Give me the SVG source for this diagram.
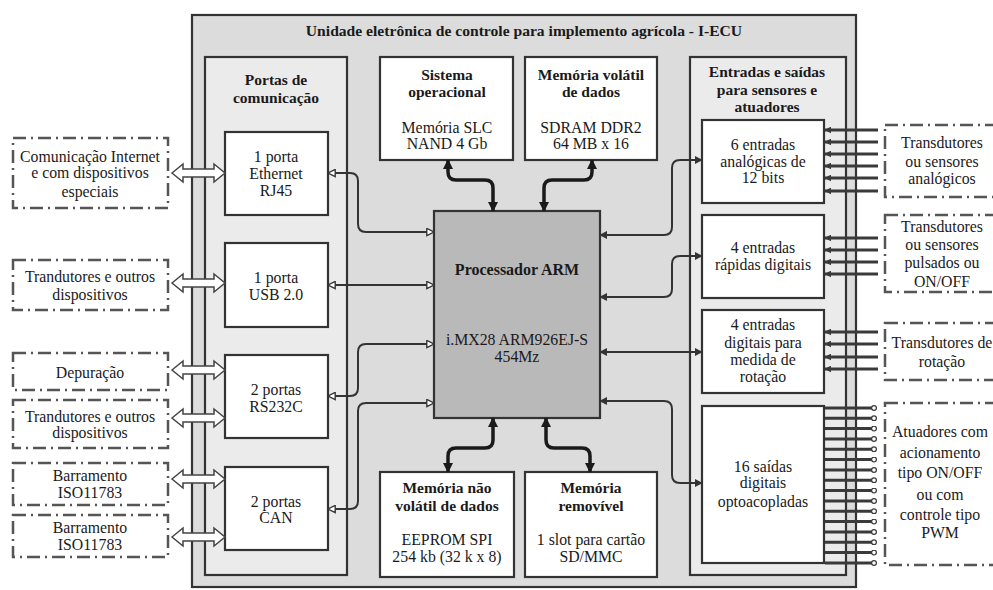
<svg xmlns="http://www.w3.org/2000/svg" width="993" height="590" viewBox="0 0 993 590">
<style>
text{font-family:"Liberation Serif","Times New Roman",serif;font-size:15.8px;fill:#1a1a1a;text-anchor:middle}
.b{font-weight:bold;font-size:15.5px}
.t{font-size:15.6px;font-weight:bold}
.ext{fill:#fff;stroke:#555;stroke-width:2.5;stroke-dasharray:13 5 2 5}
.box{fill:#fff;stroke:#333;stroke-width:2.2}
.col{fill:#ebebeb;stroke:#333;stroke-width:2.2}
.thick{fill:none;stroke:#1a1a1a;stroke-width:3.5;marker-start:url(#ah);marker-end:url(#ah)}
.thinL{fill:none;stroke:#333;stroke-width:2;marker-start:url(#hh);marker-end:url(#hh)}
.thinR{fill:none;stroke:#333;stroke-width:2;marker-start:url(#sh);marker-end:url(#sh)}
.sigIn{stroke:#3a3a3a;stroke-width:3;marker-start:url(#sm)}
.sigOut{stroke:#3a3a3a;stroke-width:3;marker-end:url(#so)}
.hollow{fill:#fff;stroke:#444;stroke-width:1.5}
</style>
<defs>
<marker id="ah" viewBox="0 0 10 10" refX="9" refY="5" markerWidth="10" markerHeight="10" markerUnits="userSpaceOnUse" orient="auto-start-reverse"><path d="M0,0 L10,5 L0,10 z" fill="#1a1a1a"/></marker>
<marker id="hh" viewBox="0 0 10 10" refX="9" refY="5" markerWidth="9" markerHeight="9" markerUnits="userSpaceOnUse" orient="auto-start-reverse"><path d="M1,1 L9,5 L1,9 z" fill="#fff" stroke="#333" stroke-width="1.5"/></marker>
<marker id="sh" viewBox="0 0 10 10" refX="9" refY="5" markerWidth="8" markerHeight="8" markerUnits="userSpaceOnUse" orient="auto-start-reverse"><path d="M0,0 L10,5 L0,10 z" fill="#333"/></marker>
<marker id="sm" viewBox="0 0 10 10" refX="9" refY="5" markerWidth="7" markerHeight="7" markerUnits="userSpaceOnUse" orient="auto-start-reverse"><path d="M0,0 L10,5 L0,10 z" fill="#3a3a3a"/></marker>
<marker id="so" viewBox="0 0 10 10" refX="5" refY="5" markerWidth="6" markerHeight="6" markerUnits="userSpaceOnUse"><circle cx="5" cy="5" r="4" fill="#fff" stroke="#3a3a3a" stroke-width="2"/></marker>
<path id="ha" d="M172,0 L183,-9 L183,-4 L214,-4 L214,-9 L225,0 L214,9 L214,4 L183,4 L183,9 z"/>
</defs>
<rect width="993" height="590" fill="#fff"/>

<g id="iecu">
<rect x="192" y="15" width="664" height="572" fill="#dcdcdc" stroke="#333" stroke-width="2.2"/>
<text class="t" x="524" y="36">Unidade eletrônica de controle para implemento agrícola - I-ECU</text>
</g>

<g id="portas">
<rect class="col" x="205" y="57" width="142" height="518"/>
<text class="b" x="276" y="85">Portas de</text>
<text class="b" x="276" y="103">comunicação</text>
</g>
<g id="eth"><rect class="box" x="225" y="132" width="103" height="83"/>
<text x="276" y="162">1 porta</text><text x="276" y="179">Ethernet</text><text x="276" y="196">RJ45</text></g>
<g id="usb"><rect class="box" x="225" y="243" width="103" height="84"/>
<text x="276" y="283">1 porta</text><text x="276" y="300">USB 2.0</text></g>
<g id="rs232"><rect class="box" x="225" y="355" width="103" height="83"/>
<text x="276" y="395">2 portas</text><text x="276" y="412">RS232C</text></g>
<g id="can"><rect class="box" x="225" y="467" width="103" height="83"/>
<text x="276" y="507">2 portas</text><text x="276" y="523">CAN</text></g>

<g id="so"><rect class="box" x="380" y="57" width="133" height="103"/>
<text class="b" x="447" y="80">Sistema</text><text class="b" x="447" y="97">operacional</text>
<text x="447" y="133">Memória SLC</text><text x="447" y="149">NAND 4 Gb</text></g>
<g id="mvol"><rect class="box" x="525" y="57" width="132" height="103"/>
<text class="b" x="591" y="80">Memória volátil</text><text class="b" x="591" y="97">de dados</text>
<text x="591" y="133">SDRAM DDR2</text><text x="591" y="149">64 MB x 16</text></g>

<g id="proc"><rect x="434" y="211" width="166" height="207" fill="#b9b9b9" stroke="#333" stroke-width="2.2"/>
<text class="b" x="517" y="275" style="font-size:16px">Processador ARM</text>
<text x="517" y="345">i.MX28 ARM926EJ-S</text><text x="517" y="362">454Mz</text></g>

<g id="mnvol"><rect class="box" x="380" y="472" width="134" height="105"/>
<text class="b" x="447" y="493">Memória não</text><text class="b" x="447" y="511">volátil de dados</text>
<text x="447" y="545">EEPROM SPI</text><text x="447" y="562">254 kb (32 k x 8)</text></g>
<g id="mrem"><rect class="box" x="525" y="472" width="132" height="105"/>
<text class="b" x="591" y="493">Memória</text><text class="b" x="591" y="511">removível</text>
<text x="591" y="545">1 slot para cartão</text><text x="591" y="562">SD/MMC</text></g>

<g id="es">
<rect class="col" x="690" y="57" width="156" height="518"/>
<text class="b" x="767" y="77">Entradas e saídas</text>
<text class="b" x="767" y="95">para sensores e</text>
<text class="b" x="767" y="112">atuadores</text>
</g>
<g id="ana"><rect class="box" x="702" y="120" width="122" height="83"/>
<text x="763" y="150">6 entradas</text><text x="763" y="167">analógicas de</text><text x="763" y="183">12 bits</text></g>
<g id="rap"><rect class="box" x="702" y="215" width="122" height="83"/>
<text x="763" y="253">4 entradas</text><text x="763" y="270">rápidas digitais</text></g>
<g id="rot"><rect class="box" x="702" y="310" width="122" height="83"/>
<text x="763" y="330">4 entradas</text><text x="763" y="348">digitais para</text><text x="763" y="365">medida de</text><text x="763" y="382">rotação</text></g>
<g id="sai"><rect class="box" x="702" y="406" width="122" height="157"/>
<text x="763" y="472">16 saídas</text><text x="763" y="488">digitais</text><text x="763" y="507">optoacopladas</text></g>

<g id="ext-left">
<g id="e1"><rect class="ext" x="13" y="138" width="155" height="70"/>
<text x="90" y="162">Comunicação Internet</text><text x="90" y="178">e com dispositivos</text><text x="90" y="197">especiais</text></g>
<g id="e2"><rect class="ext" x="13" y="260" width="155" height="50"/>
<text x="90" y="282">Trandutores e outros</text><text x="90" y="300">dispositivos</text></g>
<g id="e3"><rect class="ext" x="13" y="353" width="155" height="37"/>
<text x="90" y="378">Depuração</text></g>
<g id="e4"><rect class="ext" x="13" y="400" width="155" height="48"/>
<text x="90" y="422">Trandutores e outros</text><text x="90" y="438">dispositivos</text></g>
<g id="e5"><rect class="ext" x="13" y="463" width="155" height="42"/>
<text x="90" y="481">Barramento</text><text x="90" y="498">ISO11783</text></g>
<g id="e6"><rect class="ext" x="13" y="515" width="155" height="42"/>
<text x="90" y="533">Barramento</text><text x="90" y="550">ISO11783</text></g>
</g>

<g id="ext-right">
<g id="r1"><rect class="ext" x="885" y="125" width="115" height="72"/>
<text x="942" y="148">Transdutores</text><text x="942" y="167">ou sensores</text><text x="942" y="184">analógicos</text></g>
<g id="r2"><rect class="ext" x="885" y="215" width="115" height="77"/>
<text x="942" y="232">Transdutores</text><text x="942" y="250">ou sensores</text><text x="942" y="268">pulsados ou</text><text x="942" y="287">ON/OFF</text></g>
<g id="r3"><rect class="ext" x="885" y="323" width="115" height="57"/>
<text x="942" y="348">Transdutores de</text><text x="942" y="367">rotação</text></g>
<g id="r4"><rect class="ext" x="885" y="403" width="115" height="162"/>
<text x="940" y="437">Atuadores com</text><text x="940" y="458">acionamento</text><text x="940" y="478">tipo ON/OFF</text><text x="940" y="500">ou com</text><text x="940" y="520">controle tipo</text><text x="940" y="538">PWM</text></g>
</g>

<g id="connectors">
<use href="#ha" class="hollow" transform="translate(0,173)"/>
<use href="#ha" class="hollow" transform="translate(0,283)"/>
<use href="#ha" class="hollow" transform="translate(0,370)"/>
<use href="#ha" class="hollow" transform="translate(0,418)"/>
<use href="#ha" class="hollow" transform="translate(0,479)"/>
<use href="#ha" class="hollow" transform="translate(0,537)"/>

<path class="thick" d="M448,160 V172 Q448,180 456,180 H485 Q493,180 493,188 V211"/>
<path class="thick" d="M592,160 V172 Q592,180 584,180 H552 Q544,180 544,188 V211"/>
<path class="thick" d="M493,418 V440 Q493,448 485,448 H456 Q448,448 448,456 V472"/>
<path class="thick" d="M546,418 V440 Q546,448 554,448 H582 Q590,448 590,456 V472"/>

<path class="thinL" d="M328,173 H350 Q358,173 358,181 V224 Q358,232 366,232 H434"/>
<path class="thinL" d="M328,285 H434"/>
<path class="thinL" d="M328,396 H350 Q358,396 358,388 V352 Q358,344 366,344 H434"/>
<path class="thinL" d="M328,509 H350 Q358,509 358,501 V411 Q358,403 366,403 H434"/>

<path class="thinR" d="M600,235 H664 Q672,235 672,227 V168 Q672,160 680,160 H702"/>
<path class="thinR" d="M600,297 H664 Q672,297 672,289 V264 Q672,256 680,256 H702"/>
<path class="thinR" d="M600,352 H702"/>
<path class="thinR" d="M600,401 H664 Q672,401 672,409 V475 Q672,483 680,483 H702"/>

<g id="sig-in">
<line class="sigIn" x1="825" y1="130" x2="878" y2="130"/>
<line class="sigIn" x1="825" y1="142" x2="878" y2="142"/>
<line class="sigIn" x1="825" y1="154" x2="878" y2="154"/>
<line class="sigIn" x1="825" y1="166" x2="878" y2="166"/>
<line class="sigIn" x1="825" y1="178" x2="878" y2="178"/>
<line class="sigIn" x1="825" y1="191" x2="878" y2="191"/>
<line class="sigIn" x1="825" y1="238" x2="878" y2="238"/>
<line class="sigIn" x1="825" y1="250" x2="878" y2="250"/>
<line class="sigIn" x1="825" y1="262" x2="878" y2="262"/>
<line class="sigIn" x1="825" y1="274" x2="878" y2="274"/>
<line class="sigIn" x1="825" y1="332" x2="878" y2="332"/>
<line class="sigIn" x1="825" y1="344" x2="878" y2="344"/>
<line class="sigIn" x1="825" y1="357" x2="878" y2="357"/>
<line class="sigIn" x1="825" y1="369" x2="878" y2="369"/>
</g>
<g id="sig-out">
<line class="sigOut" x1="825" y1="408" x2="874" y2="408"/>
<line class="sigOut" x1="825" y1="418.3" x2="874" y2="418.3"/>
<line class="sigOut" x1="825" y1="428.6" x2="874" y2="428.6"/>
<line class="sigOut" x1="825" y1="439" x2="874" y2="439"/>
<line class="sigOut" x1="825" y1="449.3" x2="874" y2="449.3"/>
<line class="sigOut" x1="825" y1="459.6" x2="874" y2="459.6"/>
<line class="sigOut" x1="825" y1="470" x2="874" y2="470"/>
<line class="sigOut" x1="825" y1="480.3" x2="874" y2="480.3"/>
<line class="sigOut" x1="825" y1="490.6" x2="874" y2="490.6"/>
<line class="sigOut" x1="825" y1="501" x2="874" y2="501"/>
<line class="sigOut" x1="825" y1="511.3" x2="874" y2="511.3"/>
<line class="sigOut" x1="825" y1="521.6" x2="874" y2="521.6"/>
<line class="sigOut" x1="825" y1="532" x2="874" y2="532"/>
<line class="sigOut" x1="825" y1="542.3" x2="874" y2="542.3"/>
<line class="sigOut" x1="825" y1="552.6" x2="874" y2="552.6"/>
<line class="sigOut" x1="825" y1="563" x2="874" y2="563"/>
</g>
</g>
</svg>
